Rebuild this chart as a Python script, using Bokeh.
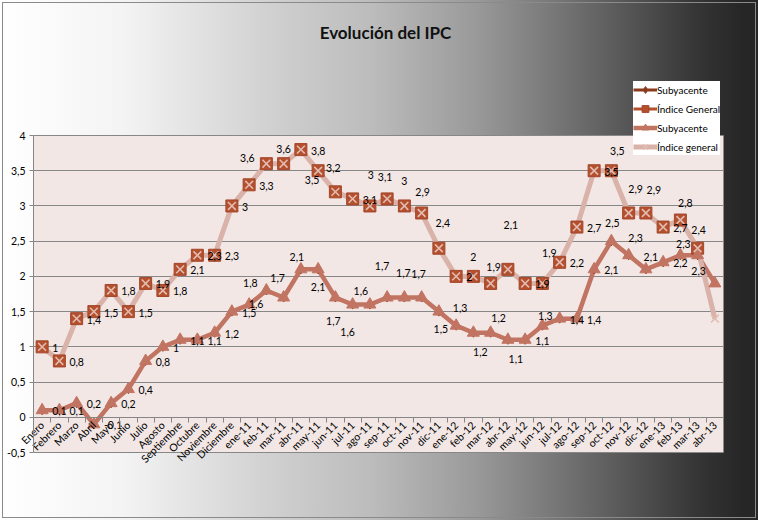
from bokeh.plotting import figure
from bokeh.models import (ColumnDataSource, Range1d, FixedTicker, CustomJSTickFormatter,
                          LinearAxis, Legend, LegendItem, Label)
from bokeh.core.properties import value
from bokeh.embed import file_html
from bokeh.resources import INLINE

# ---------------- data ----------------
meses = ["Enero", "Febrero", "Marzo", "Abril", "Mayo", "Junio", "Julio", "Agosto",
         "Septiembre", "Octubre", "Noviembre", "Diciembre",
         "ene-11", "feb-11", "mar-11", "abr-11", "may-11", "jun-11", "jul-11", "ago-11",
         "sep-11", "oct-11", "nov-11", "dic-11",
         "ene-12", "feb-12", "mar-12", "abr-12", "may-12", "jun-12", "jul-12", "ago-12",
         "sep-12", "oct-12", "nov-12", "dic-12",
         "ene-13", "feb-13", "mar-13", "abr-13"]

# series up to mar-13
indice_general = [1.0, 0.8, 1.4, 1.5, 1.8, 1.5, 1.9, 1.8, 2.1, 2.3, 2.3, 3.0,
                  3.3, 3.6, 3.6, 3.8, 3.5, 3.2, 3.1, 3.0, 3.1, 3.0, 2.9, 2.4,
                  2.0, 2.0, 1.9, 2.1, 1.9, 1.9, 2.2, 2.7, 3.5, 3.5, 2.9, 2.9,
                  2.7, 2.8, 2.4]
subyacente = [0.1, 0.1, 0.2, -0.1, 0.2, 0.4, 0.8, 1.0, 1.1, 1.1, 1.2, 1.5,
              1.6, 1.8, 1.7, 2.1, 2.1, 1.7, 1.6, 1.6, 1.7, 1.7, 1.7, 1.5,
              1.3, 1.2, 1.2, 1.1, 1.1, 1.3, 1.4, 1.4, 2.1, 2.5, 2.3, 2.1,
              2.2, 2.3, 2.3]
# extra point (abr-13) of the second pair of series
indice_general_abr13 = 1.4
subyacente_abr13 = 1.9

y_ticks = [-0.5, 0, 0.5, 1, 1.5, 2, 2.5, 3, 3.5, 4]

# ---------------- label placement (style) ----------------
# "R" = right of the point; tuple = (dx, dy) pixel offset of label centre; None = no label
ig_pos = ["R"] * 13 + [(-19, -6), (0, -15), "R", (-6, 9), (-2, -24), "R", (1, -31),
                       (-2, -22), (0, -25), (1, -21), (4, -25), "R", (0, -19), (3, -16),
                       (3, -44), "R", (7, -30), "R", "R", "R", (6, -20), (7, -24), (8, -23),
                       "R", (5, -17), (1, -18)]
sub_pos = ["R"] * 12 + [(7, -1), (-16, -7), (-6, -20), (-4, -12), (0, 18), (-2, 23), (-5, 27),
                        (-9, -14), (-5, -32), (-1, -25), (-3, -24), (2, 17), (4, -18), (7, 19),
                        (8, -15), (8, 19), "R", (3, -10), "R", "R", "R", (1, -18), (7, -17),
                        (5, -12), "R", (3, -11), (1, 16), None]

# ---------------- layout (pixels) ----------------
W, H = 758, 520
AREA_L, AREA_R, AREA_T, AREA_B = 33, 723, 135, 452

FONT = "Lato"
C_SUB_DARK = "#8B3A1E"
C_IG = "#B4502E"
C_SUB = "#C27462"
C_IG_LIGHT = "#D9B2A9"
C_AXIS = "#868686"

n = len(meses)
x_lo, x_hi = -0.5, n - 0.5
y_lo, y_hi = y_ticks[0], y_ticks[-1]
kx = (AREA_R - AREA_L) / (x_hi - x_lo)
ky = (AREA_B - AREA_T) / (y_hi - y_lo)

x1 = list(range(len(indice_general)))
x2 = list(range(n))
ig2 = indice_general + [indice_general_abr13]
sub2 = subyacente + [subyacente_abr13]

p = figure(width=W, height=H,
           x_range=Range1d(x_lo - AREA_L / kx, x_hi + (W - AREA_R) / kx),
           y_range=Range1d(y_lo - (H - AREA_B) / ky, y_hi + AREA_T / ky),
           output_backend="svg", toolbar_location=None,
           x_axis_type=None, y_axis_type=None,
           min_border_left=0, min_border_right=0, min_border_top=0, min_border_bottom=0)

p.background_fill_alpha = 0
p.border_fill_color = None
p.outline_line_color = None
p.styles = {
    "background": "linear-gradient(to right, #ffffff 0%, #f4f4f4 16%, #cecece 37%, "
                  "#bcbcbc 49%, #999999 63%, #717171 75%, #353535 92%, #262626 98%)",
    "outline": "1px solid #8a8a8a",
    "outline-offset": "-3px",
}

# plot area background
p.quad(left=[x_lo], right=[x_hi], bottom=[y_lo], top=[y_hi],
       fill_color="#F2E7E5", line_color=None, level="image")

# horizontal gridlines
try:
    from bokeh.models import Grid
    g = Grid(dimension=1, ticker=FixedTicker(ticks=y_ticks), grid_line_color="#878787")
    g.cross_bounds = (x_lo, x_hi)
    p.add_layout(g)
except AttributeError:
    p.segment(x0=[x_lo] * len(y_ticks), x1=[x_hi] * len(y_ticks), y0=y_ticks, y1=y_ticks,
              line_color="#878787", line_width=1, level="underlay")

# y axis
yax = LinearAxis(ticker=FixedTicker(ticks=y_ticks),
                 formatter=CustomJSTickFormatter(code="return String(tick).replace('.', ',');"),
                 fixed_location=x_lo, bounds=(y_lo, y_hi))
yax.axis_line_color = C_AXIS
yax.major_tick_line_color = C_AXIS
yax.major_tick_out = 4
yax.major_tick_in = 0
yax.minor_tick_line_color = None
yax.major_label_text_font = FONT
yax.major_label_text_font_size = "10.5px"
yax.major_label_text_color = "#000000"
yax.major_label_standoff = 4
p.add_layout(yax, "left")

# x axis (crosses at 0)
xax = LinearAxis(
    ticker=FixedTicker(ticks=x2, minor_ticks=[i - 0.5 for i in range(n + 1)]),
    formatter=CustomJSTickFormatter(args=dict(labels=meses),
                                    code="const i = Math.round(tick); return (i >= 0 && i < labels.length) ? labels[i] : '';"),
    fixed_location=0, bounds=(x_lo, x_hi),
)
xax.axis_line_color = C_AXIS
xax.major_tick_out = 0
xax.major_tick_in = 0
xax.minor_tick_out = 5
xax.minor_tick_in = 0
xax.minor_tick_line_color = C_AXIS
xax.major_label_orientation = 0.785398
xax.major_label_text_font = FONT
xax.major_label_text_font_size = "10.5px"
xax.major_label_text_color = "#000000"
xax.major_label_standoff = 1
p.add_layout(xax, "below")

# lines
r1 = p.line(x1, subyacente, line_color=C_SUB_DARK, line_width=3)
r2 = p.line(x1, indice_general, line_color=C_IG, line_width=3)
r3 = p.line(x2, sub2, line_color=C_SUB, line_width=4.5)
r4 = p.line(x2, ig2, line_color=C_IG_LIGHT, line_width=5)
# markers
m1 = p.scatter(x1, subyacente, marker="diamond", size=9, fill_color=C_SUB_DARK, line_color=C_SUB_DARK)
m2 = p.scatter(x1, indice_general, marker="square", size=12, fill_color=C_IG, line_color="#A4462A")
m3 = p.scatter(x2, sub2, marker="triangle", size=12, fill_color=C_SUB, line_color=C_SUB)
m4 = p.scatter(x2, ig2, marker="x", size=11, line_color="#E2BBB1", line_width=1.6)


def fmt(v):
    return ("%g" % v).replace(".", ",")


def add_labels(xs, ys, placements):
    right = dict(x=[], y=[], t=[])
    custom = dict(x=[], y=[], t=[], dx=[], dy=[])
    for xi, yi, pl in zip(xs, ys, placements):
        if pl is None:
            continue
        if pl == "R":
            right["x"].append(xi); right["y"].append(yi); right["t"].append(fmt(yi))
        else:
            custom["x"].append(xi); custom["y"].append(yi); custom["t"].append(fmt(yi))
            custom["dx"].append(pl[0]); custom["dy"].append(pl[1])
    p.text(x="x", y="y", text="t", source=ColumnDataSource(right), x_offset=10, y_offset=1,
           text_align="left", text_baseline="middle", text_font=value(FONT),
           text_font_size="10.5px", text_color="#000000")
    p.text(x="x", y="y", text="t", source=ColumnDataSource(custom), x_offset="dx", y_offset="dy",
           text_align="center", text_baseline="middle", text_font=value(FONT),
           text_font_size="10.5px", text_color="#000000")


add_labels(x1, indice_general, ig_pos)
add_labels(x2, sub2, sub_pos)

# title
p.add_layout(Label(x=385, y=H - 32, x_units="screen", y_units="screen", text="Evolución del IPC",
                   text_font=FONT, text_font_style="bold", text_font_size="17px",
                   text_align="center", text_baseline="middle", text_color="#111111"))

legend = Legend(items=[
    LegendItem(label="Subyacente", renderers=[r1, m1]),
    LegendItem(label="Índice General", renderers=[r2, m2]),
    LegendItem(label="Subyacente", renderers=[r3, m3]),
    LegendItem(label="Índice general", renderers=[r4, m4]),
], location=(633, H - 155))
legend.background_fill_color = "#ffffff"
legend.background_fill_alpha = 1
legend.border_line_color = None
legend.label_text_font = FONT
legend.label_text_font_size = "10px"
legend.label_text_color = "#000000"
legend.glyph_width = 24
legend.glyph_height = 17
legend.label_height = 17
legend.label_standoff = 0
legend.spacing = 2
legend.padding = 3
legend.margin = 0
p.add_layout(legend)

open("out.html", "w").write(file_html(p, INLINE))
